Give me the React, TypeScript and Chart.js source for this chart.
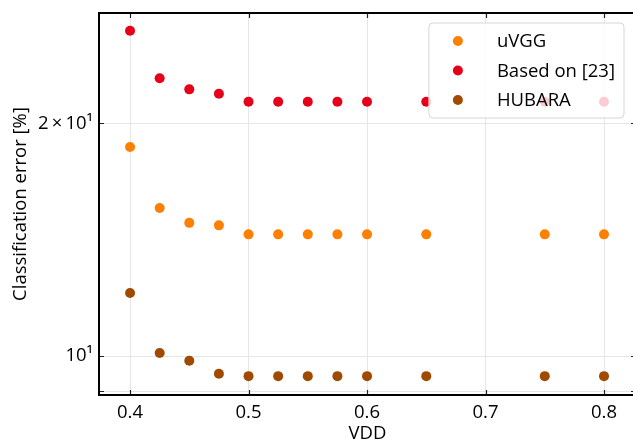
import React, { useEffect, useRef } from "react";
import { Chart, registerables } from "chart.js";

Chart.register(...registerables);

const vdd = [0.4, 0.425, 0.45, 0.475, 0.5, 0.525, 0.55, 0.575, 0.6, 0.65, 0.75, 0.8];
const uvggError = [18.64, 15.54, 14.87, 14.76, 14.37, 14.37, 14.37, 14.37, 14.37, 14.37, 14.37, 14.37];
const based23Error = [26.35, 22.87, 22.13, 21.84, 21.33, 21.33, 21.33, 21.33, 21.33, 21.33, 21.33, 21.33];
const hubaraError = [12.07, 10.09, 9.86, 9.49, 9.42, 9.42, 9.42, 9.42, 9.42, 9.42, 9.42, 9.42];

const seriesNames = ["uVGG", "Based on [23]", "HUBARA"];
const seriesColors = ["#ff8000", "#e6001a", "#a04a00"];
const seriesValues = [uvggError, based23Error, hubaraError];

const xTickValues = [0.4, 0.5, 0.6, 0.7, 0.8];
const xTickLabels = ["0.4", "0.5", "0.6", "0.7", "0.8"];
const yTickValues = [9, 10, 20];
const yTickLabels = ["", "10¹", "2\u2009×\u200910¹"];

const xMin = 0.3738;
const xMax = 0.827;
const yMin = 8.906;
const yMax = 27.78;

const FONT = '"Open Sans", sans-serif';
const FS = 18.5;

const framePlugin = {
  id: "frame",
  afterDraw(chart: any) {
    const ctx = chart.ctx as CanvasRenderingContext2D;
    const a = chart.chartArea;
    const xs = chart.scales.x;
    const ys = chart.scales.y;
    ctx.save();
    ctx.strokeStyle = "#222";
    ctx.lineWidth = 1.2;
    ctx.beginPath();
    for (const v of xTickValues) {
      const p = Math.round(xs.getPixelForValue(v)) + 0.5;
      ctx.moveTo(p, a.bottom);
      ctx.lineTo(p, a.bottom - 5);
      ctx.moveTo(p, a.top);
      ctx.lineTo(p, a.top + 5);
    }
    for (const v of yTickValues) {
      const p = Math.round(ys.getPixelForValue(v)) + 0.5;
      ctx.moveTo(a.left, p);
      ctx.lineTo(a.left + 5, p);
      ctx.moveTo(a.right, p);
      ctx.lineTo(a.right - 5, p);
    }
    ctx.stroke();
    ctx.strokeStyle = "#000";
    ctx.lineWidth = 2;
    ctx.strokeRect(a.left, a.top, a.right - a.left, a.bottom - a.top);

    // legend
    ctx.font = `${FS}px ${FONT}`;
    let maxW = 0;
    for (const n of seriesNames) maxW = Math.max(maxW, ctx.measureText(n).width);
    const lw = 68 + maxW + 9;
    const lh = 95;
    const lx = a.right - 12 - lw;
    const ly = a.top + 10;
    ctx.beginPath();
    const r = 4;
    ctx.moveTo(lx + r, ly);
    ctx.lineTo(lx + lw - r, ly);
    ctx.arcTo(lx + lw, ly, lx + lw, ly + r, r);
    ctx.lineTo(lx + lw, ly + lh - r);
    ctx.arcTo(lx + lw, ly + lh, lx + lw - r, ly + lh, r);
    ctx.lineTo(lx + r, ly + lh);
    ctx.arcTo(lx, ly + lh, lx, ly + lh - r, r);
    ctx.lineTo(lx, ly + r);
    ctx.arcTo(lx, ly, lx + r, ly, r);
    ctx.closePath();
    ctx.fillStyle = "rgba(255,255,255,0.8)";
    ctx.fill();
    ctx.strokeStyle = "#d6d6d6";
    ctx.lineWidth = 1;
    ctx.stroke();
    ctx.textBaseline = "middle";
    ctx.textAlign = "left";
    seriesNames.forEach((n, i) => {
      const cy = ly + 18 + i * 29.5;
      ctx.beginPath();
      ctx.arc(lx + 29, cy, 5, 0, Math.PI * 2);
      ctx.fillStyle = seriesColors[i];
      ctx.fill();
      ctx.fillStyle = "#000";
      ctx.fillText(n, lx + 68, cy + 1);
    });
    ctx.restore();
  },
};

export default function App() {
  const ref = useRef<HTMLCanvasElement>(null);
  useEffect(() => {
    if (!ref.current) return;
    const chart = new Chart(ref.current, {
      type: "scatter",
      data: {
        datasets: seriesNames.map((name, i) => ({
          label: name,
          data: vdd.map((x, j) => ({ x, y: seriesValues[i][j] })),
          backgroundColor: seriesColors[i],
          borderColor: seriesColors[i],
          borderWidth: 0,
          pointRadius: 5,
          pointHoverRadius: 5,
        })),
      },
      options: {
        responsive: false,
        animation: false,
        devicePixelRatio: 1,
        layout: { autoPadding: false, padding: { top: 13, right: 1, left: 0, bottom: 0 } },
        plugins: {
          legend: { display: false },
          tooltip: { enabled: false },
        },
        scales: {
          x: {
            type: "linear",
            min: xMin,
            max: xMax,
            afterBuildTicks: (s: any) => {
              s.ticks = xTickValues.map((v) => ({ value: v }));
            },
            afterFit: (s: any) => {
              s.height = 46;
              s.paddingLeft = 0;
              s.paddingRight = 0;
            },
            ticks: {
              callback: (v: any) => {
                const i = xTickValues.findIndex((t) => Math.abs(t - v) < 1e-9);
                return i >= 0 ? xTickLabels[i] : "";
              },
              font: { family: FONT, size: FS },
              color: "#000",
              padding: 7,
              maxRotation: 0,
              autoSkip: false,
            },
            grid: { color: "#e6e6e6", lineWidth: 1, drawTicks: false },
            border: { display: false },
            title: {
              display: true,
              text: "VDD",
              font: { family: FONT, size: FS, lineHeight: 0.8 },
              color: "#000",
              padding: { top: 0, bottom: 0 },
            },
          },
          y: {
            type: "logarithmic",
            min: yMin,
            max: yMax,
            afterBuildTicks: (s: any) => {
              s.ticks = yTickValues.map((v) => ({ value: v }));
            },
            afterFit: (s: any) => {
              s.width = 99;
              s.paddingTop = 0;
              s.paddingBottom = 0;
            },
            ticks: {
              callback: (v: any) => {
                const i = yTickValues.findIndex((t) => Math.abs(t - v) < 1e-9);
                return i >= 0 ? yTickLabels[i] : "";
              },
              font: { family: FONT, size: FS },
              color: "#000",
              padding: 6,
              autoSkip: false,
            },
            grid: { color: "#e6e6e6", lineWidth: 1, drawTicks: false },
            border: { display: false },
            title: {
              display: true,
              text: "Classification error [%]",
              font: { family: FONT, size: FS, lineHeight: 1.2 },
              color: "#000",
              padding: { top: 10, bottom: 0 },
            },
          },
        },
      },
      plugins: [framePlugin],
    });
    return () => chart.destroy();
  }, []);
  return (
    <div style={{ position: "absolute", left: 0, top: 0, width: 633, height: 441, overflow: "hidden", background: "#fff" }}>
      <canvas ref={ref} width={637} height={441} style={{ display: "block" }} />
    </div>
  );
}
